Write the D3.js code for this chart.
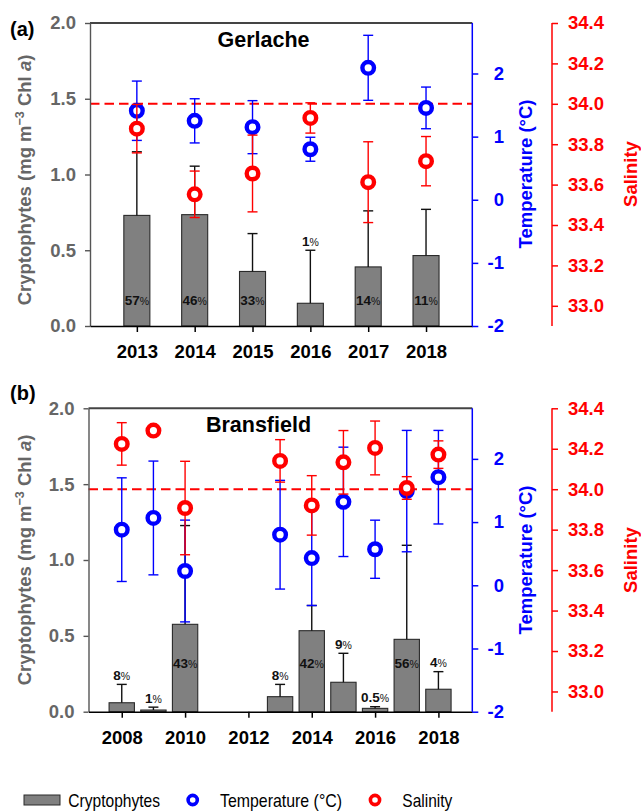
<!DOCTYPE html>
<html>
<head>
<meta charset="utf-8">
<script src="https://cdn.jsdelivr.net/npm/d3@7/dist/d3.min.js"></script>
<style>
  body { margin: 0; background: #fff; }
  svg { display: block; }
  text { font-family: "Liberation Sans", Arial, Helvetica, sans-serif; }
</style>
</head>
<body>
<svg id="chart" width="641" height="811"></svg>
<script>
// ---- Gerlache Strait ----
const gerYears      = [2013, 2014, 2015, 2016, 2017, 2018];
const gerCrypto     = [0.73, 0.735, 0.36, 0.15, 0.39, 0.465];
const gerCryptoSd   = [0.42, 0.32, 0.25, 0.35, 0.37, 0.305];
const gerCryptoPct  = ["57", "46", "33", "1", "14", "11"];
const gerTemp       = [1.41, 1.25, 1.15, 0.80, 2.09, 1.455];
const gerTempSd     = [0.47, 0.35, 0.42, 0.19, 0.515, 0.33];
const gerSal        = [33.877, 33.552, 33.655, 33.93, 33.612, 33.716];
const gerSalSd      = [0.12, 0.115, 0.19, 0.075, 0.20, 0.122];

// ---- Bransfield Strait ----
const braYears      = [2008, 2009, 2010, 2013, 2014, 2015, 2016, 2017, 2018];
const braCrypto     = [0.059, 0.011, 0.576, 0.099, 0.534, 0.194, 0.022, 0.477, 0.148];
const braCryptoSd   = [0.121, 0.019, 0.651, 0.081, 0.166, 0.191, 0.011, 0.62, 0.116];
const braCryptoPct  = ["8", "1", "43", "8", "42", "9", "0.5", "56", "4"];
const braTemp       = [0.88, 1.065, 0.226, 0.80, 0.43, 1.32, 0.57, 1.49, 1.71];
const braTempSd     = [0.82, 0.90, 0.805, 0.86, 0.75, 0.865, 0.46, 0.96, 0.74];
const braSal        = [34.224, 34.29, 33.907, 34.14, 33.92, 34.133, 34.204, 34.006, 34.171];
const braSalSd      = [0.105, 0.02, 0.231, 0.105, 0.147, 0.157, 0.133, 0.056, 0.068];
const braTickYears  = [2008, 2010, 2012, 2014, 2016, 2018];

// ---- axis ticks ----
const cryptoTicks = [0, 0.5, 1.0, 1.5, 2.0];
const tempTicks   = [-2, -1, 0, 1, 2];
const salTicks    = [33.0, 33.2, 33.4, 33.6, 33.8, 34.0, 34.2, 34.4];
const salRef      = 34.0;

const BLUE = "#0000ff", RED = "#ff0000", GREY_TXT = "#666666";
const svg = d3.select("#chart");

function styleAxis(g, color, width, textColor) {
  g.select(".domain").attr("stroke", color).attr("stroke-width", width);
  g.selectAll(".tick line").attr("stroke", color).attr("stroke-width", width);
  g.selectAll(".tick text")
    .attr("fill", textColor || color)
    .attr("font-size", "18.5px").attr("font-weight", "bold")
    .attr("font-family", null);
}

function errBar(g, xv, lo, hi, color, capHalf) {
  const e = g.append("g").attr("stroke", color).attr("stroke-width", 1.4);
  e.append("line").attr("x1", xv).attr("x2", xv).attr("y1", lo).attr("y2", hi);
  e.append("line").attr("x1", xv - capHalf).attr("x2", xv + capHalf).attr("y1", lo).attr("y2", lo);
  e.append("line").attr("x1", xv - capHalf).attr("x2", xv + capHalf).attr("y1", hi).attr("y2", hi);
}

function panel(cfg) {
  const RIGHT = 472.3, SAL_X = 552;
  const g = svg.append("g");
  const x  = d3.scaleLinear().domain(cfg.xDomain).range([cfg.left, RIGHT]);
  const yC = d3.scaleLinear().domain([0, 2]).range([cfg.bottom, cfg.top]);
  const yT = d3.scaleLinear().domain([-2, 2.8]).range([cfg.bottom, cfg.top]);
  const yS = d3.scaleLinear().domain([32.9, 34.4]).range([cfg.bottom, cfg.top]);
  const barW = (x(1) - x(0)) * cfg.barFrac;

  // top frame
  g.append("line").attr("x1", cfg.left).attr("x2", RIGHT)
    .attr("y1", cfg.top).attr("y2", cfg.top)
    .attr("stroke", "#444").attr("stroke-width", 2);

  // bars
  const n = cfg.years.length;
  for (let i = 0; i < n; i++) {
    const cx = x(cfg.years[i]);
    g.append("rect")
      .attr("x", cx - barW / 2).attr("width", barW)
      .attr("y", yC(cfg.crypto[i])).attr("height", yC(0) - yC(cfg.crypto[i]))
      .attr("fill", "#808080").attr("stroke", "#2a2a2a").attr("stroke-width", 1.1);
  }
  for (let i = 0; i < n; i++) {
    const cx = x(cfg.years[i]);
    const top = yC(cfg.crypto[i] + cfg.cryptoSd[i]);
    const e = g.append("g").attr("stroke", "#111").attr("stroke-width", 1.4);
    e.append("line").attr("x1", cx).attr("x2", cx).attr("y1", yC(cfg.crypto[i])).attr("y2", top);
    e.append("line").attr("x1", cx - 5).attr("x2", cx + 5).attr("y1", top).attr("y2", top);
  }

  // percentage labels
  for (let i = 0; i < n; i++) {
    const cx = x(cfg.years[i]);
    const inside = cfg.crypto[i] >= 0.3;
    const yy = inside ? yC(cfg.labelLevel) : yC(cfg.crypto[i] + cfg.cryptoSd[i]) - 4.5;
    const t = g.append("text").attr("x", cx).attr("y", yy)
      .attr("text-anchor", "middle").attr("fill", "#111");
    t.append("tspan").attr("font-size", "13.5px").attr("font-weight", "bold").text(cfg.pct[i]);
    t.append("tspan").attr("font-size", "10.5px").text("%");
  }

  // salinity reference line
  g.append("line").attr("x1", cfg.left).attr("x2", RIGHT)
    .attr("y1", yS(salRef)).attr("y2", yS(salRef))
    .attr("stroke", RED).attr("stroke-width", 2).attr("stroke-dasharray", "9.5,5");

  // temperature
  for (let i = 0; i < n; i++) {
    const cx = x(cfg.years[i]);
    errBar(g, cx, yT(cfg.temp[i] - cfg.tempSd[i]), yT(cfg.temp[i] + cfg.tempSd[i]), BLUE, 5);
  }
  for (let i = 0; i < n; i++) {
    g.append("circle").attr("cx", x(cfg.years[i])).attr("cy", yT(cfg.temp[i])).attr("r", 5.8)
      .attr("fill", "#fff").attr("stroke", BLUE).attr("stroke-width", 4.4);
  }
  // salinity
  for (let i = 0; i < n; i++) {
    const cx = x(cfg.years[i]);
    errBar(g, cx, yS(cfg.sal[i] - cfg.salSd[i]), yS(cfg.sal[i] + cfg.salSd[i]), RED, 5);
  }
  for (let i = 0; i < n; i++) {
    g.append("circle").attr("cx", x(cfg.years[i])).attr("cy", yS(cfg.sal[i])).attr("r", 5.8)
      .attr("fill", "#fff").attr("stroke", RED).attr("stroke-width", 4.4);
  }

  // left axis
  const ax = g.append("g").attr("transform", `translate(${cfg.left},0)`)
    .call(d3.axisLeft(yC).tickValues(cryptoTicks).tickFormat(d3.format(".1f"))
      .tickSize(5).tickSizeOuter(0).tickPadding(9));
  styleAxis(ax, "#555555", 1.4, GREY_TXT);

  // bottom axis
  const bx = g.append("g").attr("transform", `translate(0,${cfg.bottom})`)
    .call(d3.axisBottom(x).tickValues(cfg.tickYears).tickFormat(d => String(d))
      .tickSize(6).tickSizeOuter(0));
  styleAxis(bx, "#000000", 1.5);
  bx.selectAll(".tick text").attr("y", cfg.xLabelDy).attr("dy", 0);

  // temperature axis
  const tx = g.append("g").attr("transform", `translate(${RIGHT},0)`)
    .call(d3.axisRight(yT).tickValues(tempTicks).tickFormat(d => String(d))
      .tickSize(6).tickSizeOuter(0));
  styleAxis(tx, BLUE, 1.5);
  tx.select(".domain").attr("d", `M0,${cfg.bottom}V${cfg.top}`);
  tx.selectAll(".tick text").attr("text-anchor", "end").attr("x", 31.7);

  // salinity axis
  const sx = g.append("g").attr("transform", `translate(${SAL_X},0)`)
    .call(d3.axisRight(yS).tickValues(salTicks).tickFormat(d3.format(".1f"))
      .tickSize(6).tickSizeOuter(0).tickPadding(10));
  styleAxis(sx, RED, 1.5);
  sx.select(".domain").attr("d", `M0,${cfg.bottom}V${cfg.top}`);

  // axis titles
  const lt = g.append("text")
    .attr("transform", `translate(31,${cfg.leftTitleY}) rotate(-90)`)
    .attr("text-anchor", "middle").attr("font-size", "18.5px").attr("font-weight", "bold")
    .attr("fill", GREY_TXT);
  lt.append("tspan").text("Cryptophytes (mg m");
  lt.append("tspan").attr("font-size", "12.5px").attr("dy", -7).text("\u22123");
  lt.append("tspan").attr("dy", 7).text(" Chl ");
  lt.append("tspan").attr("font-style", "italic").text("a");
  lt.append("tspan").text(")");

  g.append("text")
    .attr("transform", `translate(532,${cfg.rightTitleY}) rotate(-90)`)
    .attr("text-anchor", "middle").attr("font-size", "18.5px").attr("font-weight", "bold")
    .attr("fill", BLUE).text("Temperature (\u00B0C)");
  g.append("text")
    .attr("transform", `translate(636.5,${cfg.rightTitleY}) rotate(-90)`)
    .attr("text-anchor", "middle").attr("font-size", "18.5px").attr("font-weight", "bold")
    .attr("fill", RED).text("Salinity");

  // panel tag and site name
  g.append("text").attr("x", 10).attr("y", cfg.tagY)
    .attr("font-size", "20px").attr("font-weight", "bold").attr("fill", "#000").text(cfg.tag);
  g.append("text").attr("x", cfg.titleX).attr("y", cfg.titleY).attr("text-anchor", "middle")
    .attr("font-size", "21.5px").attr("font-weight", "bold").attr("fill", "#000").text(cfg.title);
}

panel({
  years: gerYears, crypto: gerCrypto, cryptoSd: gerCryptoSd, pct: gerCryptoPct,
  temp: gerTemp, tempSd: gerTempSd, sal: gerSal, salSd: gerSalSd,
  tickYears: gerYears, xDomain: [2012.19, 2018.8], barFrac: 0.45,
  left: 90, top: 23, bottom: 326, labelLevel: 0.14, xLabelDy: 32,
  leftTitleY: 180, rightTitleY: 174,
  tag: "(a)", tagY: 36, title: "Gerlache", titleX: 263.5, titleY: 46.5
});

panel({
  years: braYears, crypto: braCrypto, cryptoSd: braCryptoSd, pct: braCryptoPct,
  temp: braTemp, tempSd: braTempSd, sal: braSal, salSd: braSalSd,
  tickYears: braTickYears, xDomain: [2006.95, 2019.07], barFrac: 0.8,
  left: 88.5, top: 408.3, bottom: 711.7, labelLevel: 0.29, xLabelDy: 32.3,
  leftTitleY: 560, rightTitleY: 560,
  tag: "(b)", tagY: 400, title: "Bransfield", titleX: 258.5, titleY: 431.5
});

// legend
const lg = svg.append("g");
lg.append("rect").attr("x", 24).attr("y", 795).attr("width", 36).attr("height", 10)
  .attr("fill", "#808080").attr("stroke", "#2a2a2a").attr("stroke-width", 1);
lg.append("text").attr("x", 68.3).attr("y", 806.5).attr("font-size", "18.5px")
  .attr("textLength", 91.7).attr("lengthAdjust", "spacingAndGlyphs").attr("fill", "#000").text("Cryptophytes");
lg.append("circle").attr("cx", 192.7).attr("cy", 800).attr("r", 4.6)
  .attr("fill", "#fff").attr("stroke", BLUE).attr("stroke-width", 3.6);
lg.append("text").attr("x", 220).attr("y", 806.5).attr("font-size", "18.5px")
  .attr("textLength", 122).attr("lengthAdjust", "spacingAndGlyphs").attr("fill", "#000").text("Temperature (\u00B0C)");
lg.append("circle").attr("cx", 375).attr("cy", 800).attr("r", 4.6)
  .attr("fill", "#fff").attr("stroke", RED).attr("stroke-width", 3.6);
lg.append("text").attr("x", 402.3).attr("y", 806.5).attr("font-size", "18.5px")
  .attr("textLength", 50).attr("lengthAdjust", "spacingAndGlyphs").attr("fill", "#000").text("Salinity");
</script>
</body>
</html>
